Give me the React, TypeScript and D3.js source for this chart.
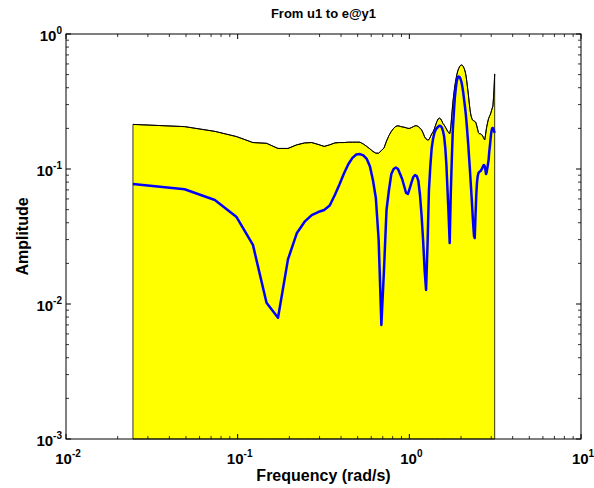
import React from "react";
import * as d3 from "d3";

// Frequency grid: k * pi / 128, k = 1..128 (rad/s)
const N = 128;
const freqs: number[] = Array.from({ length: N }, (_, i) => ((i + 1) * Math.PI) / N);

// Upper bound (black line, yellow fill below)
const upper: number[] = [
  0.214, 0.206, 0.190, 0.174, 0.157, 0.155, 0.142, 0.142, 0.151, 0.156,
  0.157, 0.152, 0.147, 0.151, 0.156, 0.157, 0.157, 0.158, 0.158, 0.158,
  0.158, 0.153, 0.147, 0.141, 0.135, 0.131, 0.131, 0.137, 0.143, 0.161,
  0.177, 0.190, 0.200, 0.207, 0.209, 0.207, 0.205, 0.204, 0.202, 0.200,
  0.200, 0.203, 0.206, 0.209, 0.209, 0.206, 0.201, 0.195, 0.185, 0.173,
  0.167, 0.164, 0.165, 0.173, 0.182, 0.188, 0.198, 0.212, 0.225, 0.235,
  0.238, 0.235, 0.227, 0.217, 0.212, 0.205, 0.198, 0.191, 0.186, 0.182,
  0.201, 0.251, 0.308, 0.359, 0.412, 0.456, 0.497, 0.532, 0.555, 0.574,
  0.586, 0.589, 0.586, 0.574, 0.555, 0.532, 0.497, 0.449, 0.398, 0.353,
  0.308, 0.274, 0.251, 0.239, 0.231, 0.229, 0.227, 0.225, 0.223, 0.216,
  0.205, 0.195, 0.186, 0.183, 0.182, 0.182, 0.180, 0.179, 0.176, 0.171,
  0.167, 0.164, 0.176, 0.191, 0.205, 0.216, 0.227, 0.237, 0.243, 0.249,
  0.255, 0.264, 0.274, 0.283, 0.293, 0.336, 0.398, 0.506,
];

// Amplitude (blue line)
const amplitude: number[] = [
  0.0774, 0.0708, 0.0589, 0.0443, 0.0274, 0.0102, 0.00792, 0.0214, 0.0334, 0.0407,
  0.0456, 0.048, 0.0497, 0.0537, 0.0642, 0.0774, 0.0934, 0.109, 0.121, 0.128,
  0.129, 0.126, 0.119, 0.105, 0.0829, 0.061, 0.0298, 0.00699, 0.0179, 0.0497,
  0.0699, 0.0918, 0.1, 0.1026, 0.1, 0.0918, 0.0843, 0.0748, 0.0664, 0.0653,
  0.0723, 0.08, 0.0873, 0.0903, 0.0888, 0.0815, 0.0642, 0.0456, 0.0298, 0.0179,
  0.0127, 0.0274, 0.0699, 0.105, 0.143, 0.167, 0.185, 0.195, 0.201, 0.206,
  0.209, 0.208, 0.203, 0.191, 0.173, 0.143, 0.107, 0.0699, 0.0456, 0.0283,
  0.0642, 0.117, 0.195, 0.26, 0.336, 0.398, 0.449, 0.476, 0.485, 0.48,
  0.464, 0.441, 0.405, 0.366, 0.324, 0.288, 0.251, 0.212, 0.176, 0.146,
  0.117, 0.095, 0.0761, 0.061, 0.048, 0.0385, 0.0319, 0.0308, 0.0456, 0.0642,
  0.08, 0.0888, 0.0934, 0.095, 0.0958, 0.0966, 0.0984, 0.101, 0.1035, 0.106,
  0.107, 0.105, 0.0984, 0.0918, 0.095, 0.1017, 0.109, 0.117, 0.134, 0.148,
  0.164, 0.182, 0.195, 0.201, 0.201, 0.198, 0.191, 0.185,
];

const xTickExps: number[] = [-2, -1, 0, 1];
const yTickExps: number[] = [-3, -2, -1, 0];
const title = "From u1 to e@y1";
const xLabel = "Frequency (rad/s)";
const yLabel = "Amplitude";

const W = 594;
const H = 488;
const M = { left: 66, right: 581, top: 34, bottom: 439 };

export default function App() {
  const x = d3.scaleLog().domain([1e-2, 1e1]).range([M.left, M.right]);
  const y = d3.scaleLog().domain([1e-3, 1e0]).range([M.bottom, M.top]);

  const pts = freqs.map((f, i) => ({ f, u: upper[i], a: amplitude[i] }));

  const area = d3
    .area<{ f: number; u: number; a: number }>()
    .x((d) => x(d.f))
    .y0(() => y(1e-3))
    .y1((d) => y(d.u));
  const areaPath = area(pts) + "Z";

  const upperLine = d3
    .line<{ f: number; u: number; a: number }>()
    .x((d) => x(d.f))
    .y((d) => y(d.u));
  const ampLine = d3
    .line<{ f: number; u: number; a: number }>()
    .x((d) => x(d.f))
    .y((d) => y(d.a));

  const xMinor: number[] = [];
  for (let e = -2; e < 1; e++) for (let m = 2; m <= 9; m++) xMinor.push(m * Math.pow(10, e));
  const yMinor: number[] = [];
  for (let e = -3; e < 0; e++) for (let m = 2; m <= 9; m++) yMinor.push(m * Math.pow(10, e));

  const font = "Liberation Sans, Arial, Helvetica, sans-serif";
  const majLen = 5;
  const minLen = 3;

  return (
    <svg
      width={W}
      height={H}
      style={{ position: "absolute", left: 0, top: 0, background: "#fff" }}
      fontFamily={font}
    >
      <rect x={0} y={0} width={W} height={H} fill="#fff" />
      {/* fill */}
      <path d={areaPath} fill="#ffff00" stroke="#000" strokeWidth={0.8} />
      <path d={upperLine(pts) || ""} fill="none" stroke="#000" strokeWidth={1} />
      <path d={ampLine(pts) || ""} fill="none" stroke="#0000ff" strokeWidth={2.5} strokeLinejoin="round" />

      {/* box */}
      <rect
        x={M.left}
        y={M.top}
        width={M.right - M.left}
        height={M.bottom - M.top}
        fill="none"
        stroke="#000"
        strokeWidth={1}
      />
      {/* x ticks */}
      {xMinor.map((v, i) => (
        <g key={"xm" + i} stroke="#000" strokeWidth={0.8}>
          <line x1={x(v)} x2={x(v)} y1={M.bottom} y2={M.bottom - minLen} />
          <line x1={x(v)} x2={x(v)} y1={M.top} y2={M.top + minLen} />
        </g>
      ))}
      {xTickExps.map((e) => (
        <g key={"xM" + e} stroke="#000" strokeWidth={1}>
          <line x1={x(Math.pow(10, e))} x2={x(Math.pow(10, e))} y1={M.bottom} y2={M.bottom - majLen} />
          <line x1={x(Math.pow(10, e))} x2={x(Math.pow(10, e))} y1={M.top} y2={M.top + majLen} />
        </g>
      ))}
      {/* y ticks */}
      {yMinor.map((v, i) => (
        <g key={"ym" + i} stroke="#000" strokeWidth={0.8}>
          <line x1={M.left} x2={M.left + minLen} y1={y(v)} y2={y(v)} />
          <line x1={M.right} x2={M.right - minLen} y1={y(v)} y2={y(v)} />
        </g>
      ))}
      {yTickExps.map((e) => (
        <g key={"yM" + e} stroke="#000" strokeWidth={1}>
          <line x1={M.left} x2={M.left + majLen} y1={y(Math.pow(10, e))} y2={y(Math.pow(10, e))} />
          <line x1={M.right} x2={M.right - majLen} y1={y(Math.pow(10, e))} y2={y(Math.pow(10, e))} />
        </g>
      ))}

      {/* x tick labels */}
      {xTickExps.map((e) => (
        <text
          key={"xl" + e}
          x={x(Math.pow(10, e)) + 2}
          y={M.bottom + 25}
          textAnchor="middle"
          fontSize={15}
          fontWeight="bold"
        >
          10
          <tspan dy={-7} fontSize={10}>
            {e}
          </tspan>
        </text>
      ))}
      {/* y tick labels */}
      {yTickExps.map((e) => (
        <text
          key={"yl" + e}
          x={M.left - 4}
          y={y(Math.pow(10, e)) + 7}
          textAnchor="end"
          fontSize={15}
          fontWeight="bold"
        >
          10
          <tspan dy={-7} fontSize={10}>
            {e}
          </tspan>
        </text>
      ))}

      <text x={(M.left + M.right) / 2} y={18} textAnchor="middle" fontSize={13} fontWeight="bold">
        {title}
      </text>
      <text x={(M.left + M.right) / 2} y={481} textAnchor="middle" fontSize={16} fontWeight="bold">
        {xLabel}
      </text>
      <text
        transform={`translate(28, ${(M.top + M.bottom) / 2}) rotate(-90)`}
        textAnchor="middle"
        fontSize={16}
        fontWeight="bold"
      >
        {yLabel}
      </text>
    </svg>
  );
}
